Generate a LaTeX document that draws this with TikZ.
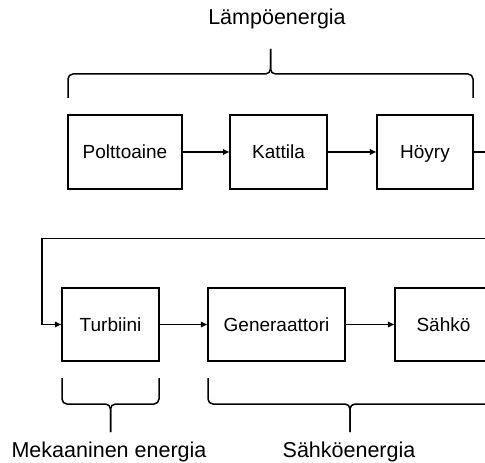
\documentclass[tikz,border=0pt]{standalone}
\usepackage{fontspec}
\setmainfont{Liberation Sans}
\usetikzlibrary{arrows.meta}

\tikzset{
  box/.style={draw, line width=1.5bp, inner sep=0pt, text height=13.6bp, text depth=0pt,
    font=\fontsize{19bp}{23bp}\selectfont},
  flow/.style={line width=1.5bp, -{Triangle[length=6.5bp,width=5.5bp]}},
  brace/.style={line width=1.5bp, rounded corners=5bp},
  lbl/.style={anchor=base, inner sep=0pt, font=\fontsize{21.5bp}{26bp}\selectfont}
}

\begin{document}
\begin{tikzpicture}[x=1bp, y=-1bp]
      \useasboundingbox (0,0) rectangle (485,463);
      \clip (0,0) rectangle (485,463);

      % top row
      \node[box, minimum width=114bp, minimum height=74bp] (fuel) at (125,152) {Polttoaine};
      \node[box, minimum width=97bp, minimum height=74bp] (boiler) at (278.5,152) {Kattila};
      \node[box, minimum width=96bp, minimum height=74bp] (steam) at (425,152) {Höyry};

      % bottom row
      \node[box, minimum width=97bp, minimum height=73bp] (turbine) at (110.5,324.5) {Turbiini};
      \node[box, minimum width=137bp, minimum height=73bp] (generator) at (276.5,324.5) {Generaattori};
      \node[box, minimum width=97bp, minimum height=73bp] (power) at (443.5,324.5) {Sähkö};

      \draw[flow] (fuel) -- (boiler);
      \draw[flow] (boiler) -- (steam);
      \draw[flow] (turbine) -- (generator);
      \draw[flow] (generator) -- (power);

      \coordinate (loopR) at (500,238.5);
      \coordinate (loopL) at (42,238.5);
      \draw[flow] (steam.east) -| (loopR) -- (loopL) |- (turbine.west);

      % braces
      \foreach \xa/\xb/\ya/\yb/\yc in {68/473/98/74/49, 62/159/378/404/432, 208/492/378/404/432} {
        \draw[brace] (\xa,\ya) -- (\xa,\yb) -- ({(\xa+\xb)/2},\yb) -- ({(\xa+\xb)/2},\yc);
        \draw[brace] (\xb,\ya) -- (\xb,\yb) -- ({(\xa+\xb)/2},\yb) -- ({(\xa+\xb)/2},\yc);
      };

      \node[lbl] (heatlbl) at (277,25) {Lämpöenergia};
      \node[lbl] (mechlbl) at (109,457) {Mekaaninen energia};
      \node[lbl] (eleclbl) at (349,457) {Sähköenergia};
    \end{tikzpicture}
\end{document}
